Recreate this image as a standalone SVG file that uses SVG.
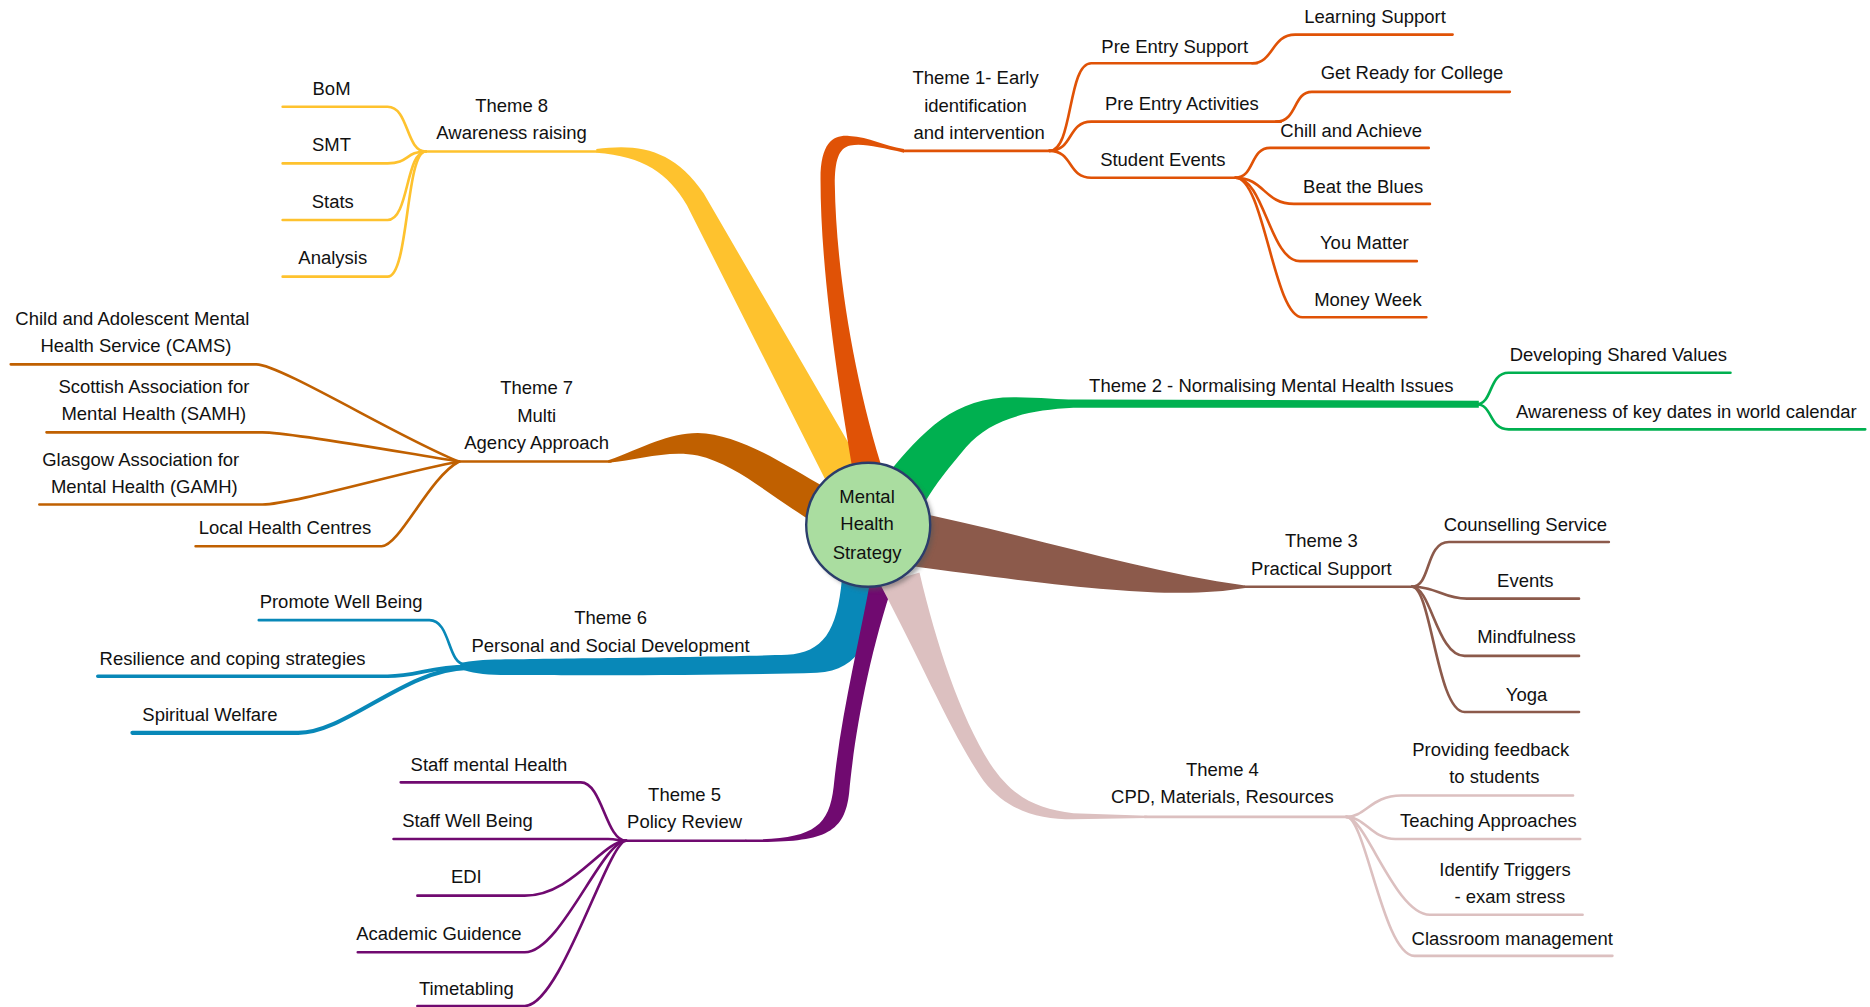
<svg xmlns="http://www.w3.org/2000/svg" width="1870" height="1007" viewBox="0 0 1870 1007">
<style>
text{font-family:"Liberation Sans","DejaVu Sans",sans-serif;font-size:15.5px;fill:#111;text-anchor:middle}
.ln{fill:none;stroke-width:2.2;stroke-linecap:round}
.t1{stroke:#e05206}.t2{stroke:#00b050}.t3{stroke:#8c5a4b}.t4{stroke:#dcc0c0}
.t5{stroke:#700a70}.t6{stroke:#0888b8}.t7{stroke:#c06000}.t8{stroke:#fec22e}
</style>
<defs>
<filter id="sh" x="-20%" y="-20%" width="140%" height="140%"><feGaussianBlur stdDeviation="2"/></filter>
</defs>
<rect width="1870" height="1007" fill="#fff"/>
<g transform="scale(1.1926)">
<g id="connectors">
<!-- thick branches -->
<path d="M500,125 C535,120 565,125 590,162 L728,400 L698,414 L576,172 C560,145 540,131 500,128 Z" fill="#fec22e"/>
<path d="M716,400 C704,330 688,230 688,150 C688,118 700,113 712,114 C730,115 740,122 758,125 L758,128 C738,124 725,120 713,122 C703,124 700,135 700,155 C701,225 716,320 742,400 Z" fill="#e05206"/>
<path d="M510,386 C540,375 560,363 585,363 C620,364 655,388 694,410 L686,440 C650,420 620,390 585,382 C560,377 535,386 510,388 Z" fill="#c06000"/>
<path d="M738,485 C732,535 722,562 685,564 C600,567 460,566 420,566 C405,566 395,564 386,561 L386,556 C395,554 405,553 420,553 C460,552 600,551 660,549 C690,547 702,530 706,485 Z" fill="#0888b8"/>
<path d="M730,486 C720,540 705,600 699,660 C695,695 680,704 625,704 L625,706 C690,707 708,700 712,665 C716,620 728,550 750,486 Z" fill="#700a70"/>
<path d="M771,480 C785,540 805,600 830,640 C850,670 870,678 900,682 L962,684 L962,686 L900,687 C870,687 845,680 825,655 C800,620 775,560 738,490 Z" fill="#dcc0c0"/>
<path d="M760,428 C850,445 950,478 1044,491 L1044,493 C990,502 920,496 760,474 Z" fill="#8c5a4b"/>
<path d="M742,400 C775,360 800,333 850,333 C870,333 890,335 900,335 L1240,336 L1240,342 L900,342 C860,344 830,352 810,375 C795,393 785,405 775,422 Z" fill="#00b050"/>
<!-- theme lines -->
<path class="ln t1" d="M758,126.5 L880,126.5"/>
<path class="ln t8" d="M357,127 L500,127"/>
<path class="ln t7" d="M385,387 L512,387"/>
<path class="ln t5" d="M525,705 L625,705"/>
<path class="ln t4" d="M960,685 L1129,685"/>
<path class="ln t3" d="M1044,492 L1184,492"/>
<!-- theme 1 children -->
<path class="ln t1" d="M880,126.5 C900,126.5 895,53 915,53 L1054,53"/>
<path class="ln t1" d="M1050,53 C1068,53 1066,29 1086,29 L1218,29"/>
<path class="ln t1" d="M880,126.5 C900,126.5 895,102 915,102 L1074,102"/>
<path class="ln t1" d="M1070,102 C1088,102 1084,77 1100,77 L1266,77"/>
<path class="ln t1" d="M880,126.5 C900,126.5 895,149 915,149 L1036,149"/>
<path class="ln t1" d="M1036,149 C1052,149 1048,124 1065,124 L1198,124"/>
<path class="ln t1" d="M1036,149 C1060,149 1060,171 1085,171 L1199,171"/>
<path class="ln t1" d="M1036,149 C1060,149 1065,219 1090,219 L1188,219"/>
<path class="ln t1" d="M1036,149 C1060,149 1068,266 1092,266 L1196,266"/>
<!-- theme 2 children -->
<path class="ln t2" d="M1238,339 C1252,339 1248,312.5 1265,312.5 L1451,312.5"/>
<path class="ln t2" d="M1238,339 C1252,339 1248,360 1265,360 L1564,360"/>
<!-- theme 3 children -->
<path class="ln t3" d="M1184,492 C1200,492 1195,454.5 1215,454.5 L1349,454.5"/>
<path class="ln t3" d="M1184,492 C1205,492 1210,502 1230,502 L1324,502"/>
<path class="ln t3" d="M1184,492 C1200,492 1205,550 1228,550 L1324,550"/>
<path class="ln t3" d="M1184,492 C1200,492 1205,597 1228,597 L1324,597"/>
<!-- theme 4 children -->
<path class="ln t4" d="M1129,685 C1145,685 1150,667 1175,667 L1319,667"/>
<path class="ln t4" d="M1129,685 C1145,685 1150,703.5 1170,703.5 L1325,703.5"/>
<path class="ln t4" d="M1129,685 C1145,685 1170,767 1199,767 L1327,767"/>
<path class="ln t4" d="M1129,685 C1145,685 1160,801.5 1186,801.5 L1352,801.5"/>
<!-- theme 5 children -->
<path class="ln t5" d="M525,705 C508,705 505,656 487,656 L336,656"/>
<path class="ln t5" d="M525,705 C518,705 518,703.5 510,703.5 L330,703.5"/>
<path class="ln t5" d="M525,705 C505,705 480,751 440,751 L350,751"/>
<path class="ln t5" d="M525,705 C505,705 470,798.5 440,798.5 L300,798.5"/>
<path class="ln t5" d="M525,705 C510,705 470,843.5 440,843.5 L350,843.5"/>
<!-- theme 6 children -->
<path class="ln t6" d="M390,557 C375,557 378,520 360,520 L217,520"/>
<path class="ln t6" d="M392,559 C360,559 350,567 325,567 L82,567" style="stroke-width:3"/>
<path class="ln t6" d="M392,560 C340,561 290,614.5 250,614.5 L111,614.5" style="stroke-width:3.4"/>
<!-- theme 7 children -->
<path class="ln t7" d="M385,387 C340,370 235,305.5 215,305.5 L9,305.5"/>
<path class="ln t7" d="M385,387 C340,380 245,362.5 220,362.5 L39,362.5"/>
<path class="ln t7" d="M385,387 C340,395 245,423 220,423 L33,423"/>
<path class="ln t7" d="M385,387 C360,400 335,458 320,458 L164,458"/>
<!-- theme 8 children -->
<path class="ln t8" d="M357,127 C340,127 343,89.5 325,89.5 L237,89.5"/>
<path class="ln t8" d="M357,127 C340,127 343,137 325,137 L237,137"/>
<path class="ln t8" d="M357,127 C340,127 343,184.5 325,184.5 L237,184.5"/>
<path class="ln t8" d="M357,127 C340,127 343,232 325,232 L237,232"/>
</g>
<g id="center">
<circle cx="731" cy="443" r="52" fill="#555" opacity="0.5" filter="url(#sh)"/>
<circle cx="728" cy="440" r="52" fill="#aadda0" stroke="#2b3d6b" stroke-width="2"/>
<text x="727" y="421.5">Mental</text>
<text x="727" y="444.5">Health</text>
<text x="727" y="468.5">Strategy</text>
</g>
<g id="theme1"><text x="818" y="70.5">Theme 1- Early</text><text x="818" y="93.5">identification</text><text x="821" y="116.5">and intervention</text></g>
<g id="t1-pre-support"><text x="985" y="44.5">Pre Entry Support</text></g>
<g id="t1-pre-activities"><text x="991" y="92.5">Pre Entry Activities</text></g>
<g id="t1-student-events"><text x="975" y="139.5">Student Events</text></g>
<g id="t1-learning"><text x="1153" y="19.5">Learning Support</text></g>
<g id="t1-get-ready"><text x="1184" y="66.5">Get Ready for College</text></g>
<g id="t1-chill"><text x="1133" y="114.5">Chill and Achieve</text></g>
<g id="t1-blues"><text x="1143" y="161.5">Beat the Blues</text></g>
<g id="t1-matter"><text x="1144" y="208.5">You Matter</text></g>
<g id="t1-money"><text x="1147" y="256.5">Money Week</text></g>
<g id="theme2"><text x="1066" y="328.5">Theme 2 - Normalising Mental Health Issues</text></g>
<g id="t2-values"><text x="1357" y="302.5">Developing Shared Values</text></g>
<g id="t2-dates"><text x="1414" y="350.5">Awareness of key dates in world calendar</text></g>
<g id="theme3"><text x="1108" y="458.5">Theme 3</text><text x="1108" y="482.5">Practical Support</text></g>
<g id="t3-counselling"><text x="1279" y="445.5">Counselling Service</text></g>
<g id="t3-events"><text x="1279" y="492.5">Events</text></g>
<g id="t3-mindfulness"><text x="1280" y="539.5">Mindfulness</text></g>
<g id="t3-yoga"><text x="1280" y="587.5">Yoga</text></g>
<g id="theme4"><text x="1025" y="650.5">Theme 4</text><text x="1025" y="673.5">CPD, Materials, Resources</text></g>
<g id="t4-feedback"><text x="1250" y="633.5">Providing feedback</text><text x="1253" y="656.5">to students</text></g>
<g id="t4-teaching"><text x="1248" y="693.5">Teaching Approaches</text></g>
<g id="t4-triggers"><text x="1262" y="734.5">Identify Triggers</text><text x="1266" y="757.5">- exam stress</text></g>
<g id="t4-classroom"><text x="1268" y="792.5">Classroom management</text></g>
<g id="theme5"><text x="574" y="671.5">Theme 5</text><text x="574" y="694.5">Policy Review</text></g>
<g id="t5-staff-mh"><text x="410" y="646.5">Staff mental Health</text></g>
<g id="t5-staff-wb"><text x="392" y="693.5">Staff Well Being</text></g>
<g id="t5-edi"><text x="391" y="740.5">EDI</text></g>
<g id="t5-academic"><text x="368" y="788.5">Academic Guidence</text></g>
<g id="t5-timetabling"><text x="391" y="834.5">Timetabling</text></g>
<g id="theme6"><text x="512" y="523.5">Theme 6</text><text x="512" y="546.5">Personal and Social Development</text></g>
<g id="t6-promote"><text x="286" y="509.5">Promote Well Being</text></g>
<g id="t6-resilience"><text x="195" y="557.5">Resilience and coping strategies</text></g>
<g id="t6-spiritual"><text x="176" y="604.5">Spiritual Welfare</text></g>
<g id="theme7"><text x="450" y="330.5">Theme 7</text><text x="450" y="353.5">Multi</text><text x="450" y="376.5">Agency Approach</text></g>
<g id="t7-cams"><text x="111" y="272.5">Child and Adolescent Mental</text><text x="114" y="295.5">Health Service (CAMS)</text></g>
<g id="t7-samh"><text x="129" y="329.5">Scottish Association for</text><text x="129" y="352.5">Mental Health (SAMH)</text></g>
<g id="t7-gamh"><text x="118" y="390.5">Glasgow Association for</text><text x="121" y="413.5">Mental Health (GAMH)</text></g>
<g id="t7-local"><text x="239" y="447.5">Local Health Centres</text></g>
<g id="theme8"><text x="429" y="93.5">Theme 8</text><text x="429" y="116.5">Awareness raising</text></g>
<g id="t8-bom"><text x="278" y="79.5">BoM</text></g>
<g id="t8-smt"><text x="278" y="126.5">SMT</text></g>
<g id="t8-stats"><text x="279" y="174.5">Stats</text></g>
<g id="t8-analysis"><text x="279" y="221.5">Analysis</text></g>
</g>
</svg>
